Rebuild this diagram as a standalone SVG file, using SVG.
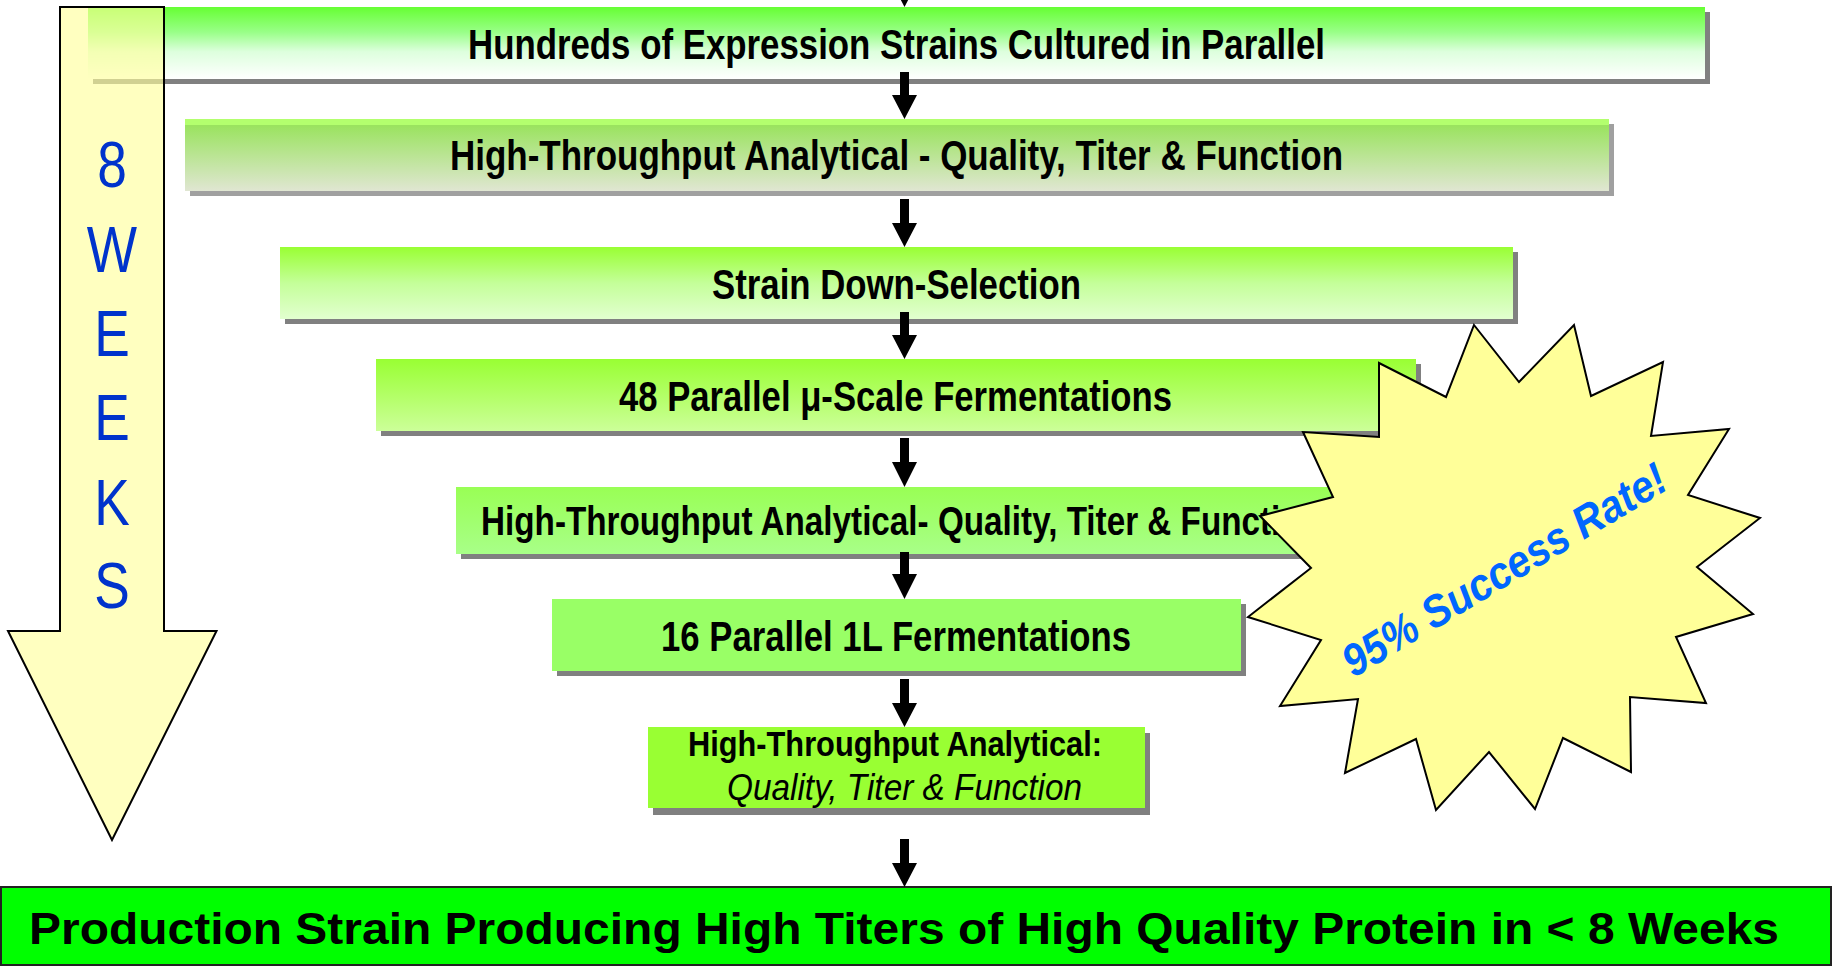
<svg xmlns="http://www.w3.org/2000/svg" width="1833" height="966" viewBox="0 0 1833 966">
  <style>
    .nar { font-family: "Liberation Sans Narrow", "Liberation Sans", Arial, sans-serif; font-weight: bold; fill: #000; }
    .nari { font-family: "Liberation Sans Narrow", "Liberation Sans", Arial, sans-serif; font-weight: normal; font-style: italic; fill: #000; }
    .reg { font-family: "Liberation Sans", Arial, sans-serif; fill: #000; }
    .shadow { fill: #808080; }
    .wk { font-family: "Liberation Sans Narrow", "Liberation Sans", Arial, sans-serif; font-size: 65px; fill: #0033cc; text-anchor: middle; }
    .conn { fill: #000; }
  </style>
  <defs>
    <linearGradient id="g1" x1="0" y1="0" x2="0" y2="1">
      <stop offset="0" stop-color="#66ff33"/>
      <stop offset="0.35" stop-color="#99ff88"/>
      <stop offset="0.62" stop-color="#ddffdd"/>
      <stop offset="1" stop-color="#ffffff"/>
    </linearGradient>
    <linearGradient id="g2" x1="0" y1="0" x2="0" y2="1">
      <stop offset="0" stop-color="#b3ff6e"/>
      <stop offset="0.08" stop-color="#b3ff6e"/>
      <stop offset="0.09" stop-color="#9ae35f"/>
      <stop offset="1" stop-color="#e0e6d2"/>
    </linearGradient>
    <linearGradient id="g3" x1="0" y1="0" x2="0" y2="1">
      <stop offset="0" stop-color="#99ff33"/>
      <stop offset="0.5" stop-color="#c4ff99"/>
      <stop offset="1" stop-color="#e2ffcf"/>
    </linearGradient>
    <linearGradient id="g4" x1="0" y1="0" x2="0" y2="1">
      <stop offset="0" stop-color="#99ff33"/>
      <stop offset="1" stop-color="#ccff99"/>
    </linearGradient>
    <linearGradient id="g5" x1="0" y1="0" x2="0" y2="1">
      <stop offset="0" stop-color="#99ff55"/>
      <stop offset="1" stop-color="#a8ff88"/>
    </linearGradient>
  </defs>

  <g id="box1">
    <rect class="shadow" x="93" y="12" width="1617" height="72"/>
    <rect x="88" y="7" width="1617" height="72" fill="url(#g1)"/>
    <text class="nar" x="468" y="59" font-size="42.5" textLength="857" lengthAdjust="spacingAndGlyphs">Hundreds of Expression Strains Cultured in Parallel</text>
  </g>

  <g id="box2">
    <rect x="190" y="124" width="1424" height="72" fill="#a0a0a0"/>
    <rect x="185" y="119" width="1424" height="72" fill="url(#g2)"/>
    <text class="nar" x="450" y="170" font-size="42" textLength="893" lengthAdjust="spacingAndGlyphs">High-Throughput Analytical - Quality, Titer &amp; Function</text>
  </g>

  <g id="box3">
    <rect class="shadow" x="285" y="252" width="1233" height="72"/>
    <rect x="280" y="247" width="1233" height="72" fill="url(#g3)"/>
    <text class="nar" x="712" y="299" font-size="42" textLength="369" lengthAdjust="spacingAndGlyphs">Strain Down-Selection</text>
  </g>

  <g id="box4">
    <rect class="shadow" x="381" y="364" width="1040" height="72"/>
    <rect x="376" y="359" width="1040" height="72" fill="url(#g4)"/>
    <text class="nar" x="619" y="411" font-size="42" textLength="553" lengthAdjust="spacingAndGlyphs">48 Parallel μ-Scale Fermentations</text>
  </g>

  <g id="box5">
    <rect class="shadow" x="461" y="492" width="894" height="67"/>
    <rect x="456" y="487" width="894" height="67" fill="url(#g5)"/>
    <text class="nar" x="481" y="535" font-size="40" textLength="840" lengthAdjust="spacingAndGlyphs">High-Throughput Analytical- Quality, Titer &amp; Function</text>
  </g>

  <g id="box6">
    <rect class="shadow" x="557" y="604" width="689" height="72"/>
    <rect x="552" y="599" width="689" height="72" fill="#99ff66"/>
    <text class="nar" x="661" y="651" font-size="42" textLength="470" lengthAdjust="spacingAndGlyphs">16 Parallel 1L Fermentations</text>
  </g>

  <g id="box7">
    <rect class="shadow" x="653" y="733" width="497" height="82"/>
    <rect x="648" y="727" width="497" height="81" fill="#99ff33"/>
    <text class="nar" x="688" y="756" font-size="35" textLength="414" lengthAdjust="spacingAndGlyphs">High-Throughput Analytical:</text>
    <text class="nari" x="727" y="800" font-size="37" textLength="355" lengthAdjust="spacingAndGlyphs">Quality, Titer &amp; Function</text>
  </g>

  <g id="result">
    <rect x="1" y="887" width="1830" height="78" fill="#00ff00" stroke="#222" stroke-width="2"/>
    <text class="reg" x="29" y="944" font-size="45" font-weight="bold" textLength="1750" lengthAdjust="spacingAndGlyphs">Production Strain Producing High Titers of High Quality Protein in &lt; 8 Weeks</text>
  </g>

  <g id="weeks-arrow">
    <polygon points="60,7 164,7 164,631 216.5,631 112,840 8,631 60,631" fill="#ffff9c" fill-opacity="0.64" stroke="#000" stroke-width="2" stroke-linejoin="miter"/>
    <g transform="translate(112,0) scale(0.82,1)">
      <text class="wk" x="0" y="187">8</text>
      <text class="wk" x="0" y="272">W</text>
      <text class="wk" x="0" y="356">E</text>
      <text class="wk" x="0" y="440">E</text>
      <text class="wk" x="0" y="525">K</text>
      <text class="wk" x="0" y="608">S</text>
    </g>
  </g>

  <g id="starburst">
    <polygon points="1474,325 1519,382 1574,325 1591,396 1663,362 1651,436 1729,429 1688,495 1760,518 1697,567 1753,614 1676,637 1706,703 1630,697 1631,772 1563,738 1535,809 1489,752 1436,810 1416,739 1345,773 1358,699 1280,706 1321,640 1248,617 1311,568 1260,516 1333,497 1303,432 1379,437 1379,363 1446,397" fill="#ffff99" stroke="#000" stroke-width="2" stroke-linejoin="miter"/>
    <text x="1512" y="583" transform="rotate(-31 1512 583)" font-family="'Liberation Sans', Arial, sans-serif" font-weight="bold" font-style="italic" font-size="45" fill="#0066ff" text-anchor="middle" textLength="370" lengthAdjust="spacingAndGlyphs">95% Success Rate!</text>
  </g>

  <g id="connectors">
    <path class="conn" d="M900,-40 H909 V-17 H917 L904.5,7 L892,-17 H900 Z"/>
    <path class="conn" d="M900,72 H909 V95 H917 L904.5,119 L892,95 H900 Z"/>
    <path class="conn" d="M900,199 H909 V223 H917 L904.5,247 L892,223 H900 Z"/>
    <path class="conn" d="M900,312 H909 V335 H917 L904.5,359 L892,335 H900 Z"/>
    <path class="conn" d="M900,438 H909 V462 H917 L904.5,487 L892,462 H900 Z"/>
    <path class="conn" d="M900,552 H909 V574 H917 L904.5,599 L892,574 H900 Z"/>
    <path class="conn" d="M900,679 H909 V703 H917 L904.5,727 L892,703 H900 Z"/>
    <path class="conn" d="M900,839 H909 V863 H917 L904.5,887 L892,863 H900 Z"/>
  </g>
</svg>
